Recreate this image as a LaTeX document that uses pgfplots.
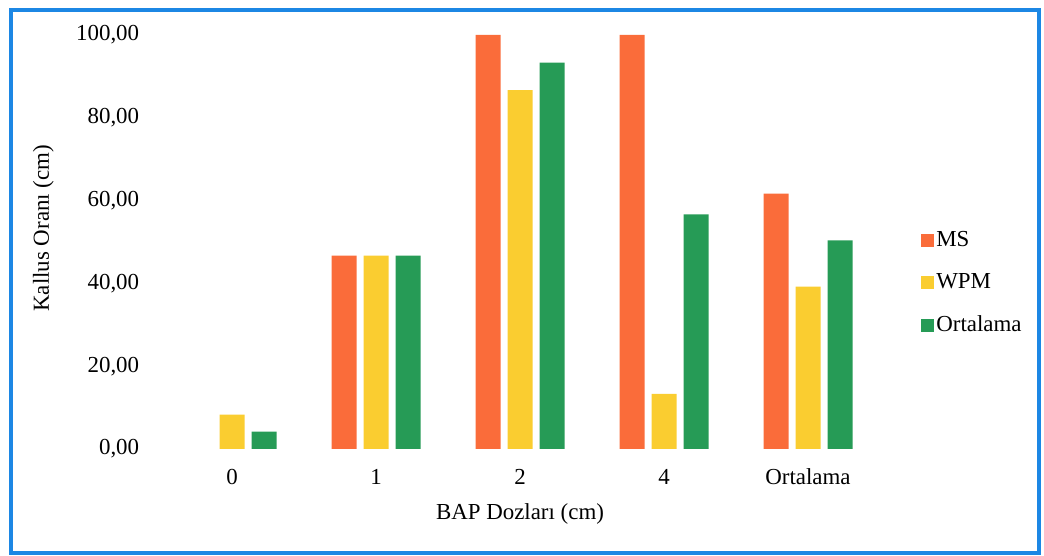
\documentclass[border=0pt]{standalone}
\usepackage{pgfplots}
\pgfplotsset{compat=1.18}
\usepackage{fontspec}
\setmainfont{Liberation Serif}
\definecolor{msc}{RGB}{250,108,58}
\definecolor{wpmc}{RGB}{250,205,48}
\definecolor{ortc}{RGB}{38,155,86}
\definecolor{framec}{RGB}{28,135,228}
\begin{document}
\fontsize{23}{27}\selectfont
\begin{tikzpicture}
\useasboundingbox (0,0) rectangle (1044bp,556bp);
\draw[line width=4bp, framec] (11bp,3bp) rectangle (1039bp,546bp);
\begin{axis}[
  at={(160bp,107bp)}, anchor=south west,
  scale only axis, width=720bp, height=414bp,
  xmin=-0.5, xmax=4.5, ymin=0, ymax=100,
  xtick={0,1,2,3,4}, xticklabels={0,1,2,4,Ortalama},
  ytick={0,20,40,60,80,100},
  axis line style={draw=none}, major tick length=0pt,
  ybar=7bp, bar width=25bp,
  clip=false,
  /pgf/number format/assume math mode=true,
  yticklabel style={/pgf/number format/.cd, fixed, fixed zerofill, precision=2, use comma, /tikz/.cd, xshift=-13bp},
  xticklabel style={anchor=center, yshift=-28bp},
  ylabel={Kallus Oranı (cm)},
  ylabel style={at={(axis description cs:-0.162,0.533)}, anchor=center},
  xlabel={BAP Dozları (cm)},
  xlabel style={at={(axis description cs:0.5,-0.158)}, anchor=center},
  legend style={at={(axis description cs:1.053,0.537)}, anchor=north west, draw=none, fill=none,
    row sep=20bp, nodes={inner xsep=2bp}},
  legend cell align=left,
  legend image code/.code={\fill[#1] (0bp,-6.5bp) rectangle (13bp,6.5bp);},
]
\addplot[fill=msc, draw=none] coordinates {(1,46.7) (2,100) (3,100) (4,61.7)};
\addplot[fill=wpmc, draw=none] coordinates {(0,8.3) (1,46.7) (2,86.7) (3,13.3) (4,39.2)};
\addplot[fill=ortc, draw=none] coordinates {(0,4.2) (1,46.7) (2,93.3) (3,56.7) (4,50.4)};
\legend{MS,WPM,Ortalama}
\end{axis}
\end{tikzpicture}
\end{document}
